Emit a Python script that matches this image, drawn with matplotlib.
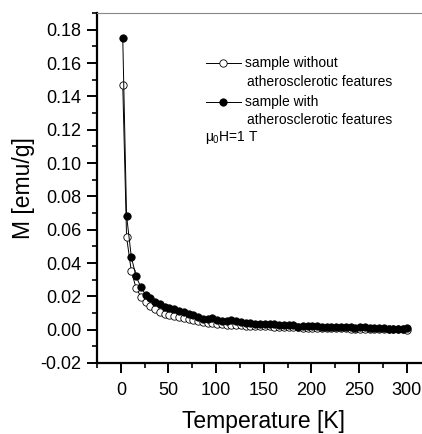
import matplotlib
matplotlib.use("Agg")
import matplotlib.pyplot as plt

plt.rcParams['font.family'] = ['Liberation Sans', 'DejaVu Sans']
plt.rcParams['mathtext.fontset'] = 'custom'
plt.rcParams['mathtext.rm'] = 'Liberation Sans'
plt.rcParams['mathtext.it'] = 'Liberation Sans'

# temperature grid [K]
temp = [2, 6, 11, 16, 21, 26, 31, 36, 41, 46, 51, 56, 61, 66, 71, 76, 81, 86, 91, 96,
        101, 106, 111, 116, 121, 126, 131, 136, 141, 146, 151, 156, 161, 166, 171, 176,
        181, 186, 191, 196, 201, 206, 211, 216, 221, 226, 231, 236, 241, 246, 251, 256,
        261, 266, 271, 276, 281, 286, 291, 296, 300]

# sample with atherosclerotic features (filled)
m_with = [0.175, 0.0685, 0.0435, 0.032, 0.0255, 0.021, 0.019, 0.0168, 0.0152, 0.0138,
          0.0128, 0.0122, 0.0114, 0.0105, 0.0096, 0.0086, 0.0076, 0.0066, 0.0062, 0.0072,
          0.0056, 0.0054, 0.0052, 0.0058, 0.0050, 0.0046, 0.0040, 0.0038, 0.0036, 0.0035,
          0.0033, 0.0034, 0.0032, 0.0030, 0.0031, 0.0028, 0.0026, 0.0018, 0.0022, 0.0024,
          0.0022, 0.0020, 0.0018, 0.0016, 0.0015, 0.0016, 0.0014, 0.0016, 0.0015, 0.0012,
          0.0014, 0.0013, 0.0008, 0.0010, 0.0012, 0.0008, 0.0006, 0.0004, 0.0003, 0.0004,
          0.0008]

# sample without atherosclerotic features (open)
m_without = [0.147, 0.0558, 0.035, 0.025, 0.0198, 0.0168, 0.0145, 0.0125, 0.0108, 0.0096,
             0.0088, 0.0080, 0.0074, 0.0068, 0.0062, 0.0056, 0.0052, 0.0048, 0.0042, 0.0040,
             0.0036, 0.0033, 0.0030, 0.0028, 0.0027, 0.0026, 0.0024, 0.0023, 0.0022, 0.0021,
             0.0020, 0.0019, 0.0018, 0.0017, 0.0016, 0.0015, 0.0014, 0.0013, 0.0012, 0.0012,
             0.0011, 0.0010, 0.0010, 0.0009, 0.0008, 0.0008, 0.0007, 0.0007, 0.0006, 0.0006,
             0.0005, 0.0005, 0.0004, 0.0004, 0.0003, 0.0003, 0.0002, 0.0002, 0.0001, 0.0001,
             0.0000]

fig = plt.figure(figsize=(4.22, 4.34), dpi=100)
ax = fig.add_axes([0.2299, 0.1636, 0.7701, 0.8064])

ax.plot(temp, m_without, color='black', lw=0.7, marker='o', ms=5.3,
        mfc='white', mec='black', mew=0.6, zorder=2)
ax.plot(temp, m_with, color='black', lw=0.7, marker='o', ms=5.3,
        mfc='black', mec='black', mew=0.6, zorder=3)

ax.set_xlim(-25, 316)
ax.set_ylim(-0.02, 0.19)
ax.set_xticks([0, 50, 100, 150, 200, 250, 300])
ax.set_xticks([-25, 25, 75, 125, 175, 225, 275], minor=True)
ax.set_yticks([-0.02 + 0.02 * i for i in range(11)])
ax.set_yticklabels(['%.2f' % (-0.02 + 0.02 * i) for i in range(11)])
ax.set_yticks([-0.01 + 0.02 * i for i in range(11)], minor=True)

ax.spines['right'].set_visible(False)
ax.spines['top'].set_color('#888888')
ax.spines['top'].set_linewidth(0.8)
ax.spines['left'].set_linewidth(1.6)
ax.spines['bottom'].set_linewidth(1.6)

ax.tick_params(which='major', direction='out', length=7, width=1.4, labelsize=13, pad=4)
ax.tick_params(which='minor', direction='out', length=3.5, width=1.2)
ax.tick_params(axis='x', which='major', pad=6.5)
ax.tick_params(top=False, right=False)

# x label sits right at the bottom edge in the original
fig.text(263 / 422, 1 / 434, 'Temperature [K]', fontsize=16.5, ha='center', va='bottom')
ax.set_ylabel('M [emu/g]', fontsize=16.5, labelpad=4)

# legend drawn by hand
tr = ax.transAxes
def ax_xy(px, py):
    return (px - 97) / 325.0, (363 - py) / 350.0

for py, face in [(63, 'white'), (102, 'black')]:
    x0, y0 = ax_xy(206, py)
    x1, _ = ax_xy(241, py)
    xm, _ = ax_xy(223, py)
    ax.plot([x0, x1], [y0, y0], color='black', lw=0.7, transform=tr, clip_on=False)
    ax.plot([xm], [y0], marker='o', ms=5.3, mfc=face, mec='black', mew=0.6,
            transform=tr, clip_on=False, ls='none')

for px, py, s in [(245, 63, 'sample without'), (247, 82, 'atherosclerotic features'),
                  (245, 102, 'sample with'), (247, 120, 'atherosclerotic features')]:
    x, y = ax_xy(px, py)
    ax.text(x, y, s, transform=tr, fontsize=10, va='center', ha='left')

x, y = ax_xy(205, 137)
ax.text(x, y, r'$\mu_0$H=1 T', transform=tr, fontsize=10, va='center', ha='left')

fig.savefig('out.png', dpi=100)
